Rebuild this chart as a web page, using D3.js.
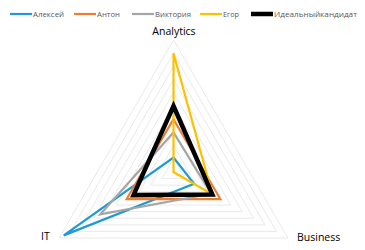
<!DOCTYPE html>
<html>
<head>
<meta charset="utf-8">
<title>Radar</title>
<script src="https://d3js.org/d3.v7.min.js"></script>
<style>
body { margin: 0; background: #fff; }
text { font-family: "Open Sans", "Liberation Sans", sans-serif; }
</style>
</head>
<body>
<script>

var categories = ["Analytics", "Business", "IT"];
var names = ["Алексей", "Антон", "Виктория", "Егор", "Идеальныйкандидат"];
var colors = ["#1f9ad6", "#ed7d31", "#a5a5a5", "#ffc000", "#000000"];

var alexey = [1.1, 1.8, 9.6];
var anton = [4.0, 4.1, 4.1];
var viktoria = [3.0, 3.3, 6.4];
var egor = [9.0, 3.4, 0];
var ideal = [5.0, 3.4, 3.5];

var seriesValues = [alexey, anton, viktoria, egor, ideal];
var gridTicks = [1, 2, 3, 4, 5, 6, 7, 8, 9, 10];

var width = 365, height = 250;
var cx = 173.5, cy = 172;

var svg = d3.select("body")
	.append("svg")
	.attr("width", width)
	.attr("height", height);

var r = d3.scaleLinear().domain([0, 10]).range([0, 132]);
var angle = d3.scalePoint().domain(categories.concat(["_end"])).range([0, 2 * Math.PI]);

function pt(cat, v) {
	var a = angle(cat) - Math.PI / 2;
	return [cx + r(v) * Math.cos(a), cy + r(v) * Math.sin(a)];
}

var line = d3.line().curve(d3.curveLinearClosed);

// grid
svg.append("g").selectAll("path")
	.data(gridTicks)
	.enter()
	.append("path")
	.attr("d", function(t){
		return line(categories.map(function(c){ return pt(c, t); }));
	})
	.attr("fill", "none")
	.attr("stroke", "#e3e3e3")
	.attr("stroke-width", 0.8);

// series
svg.append("g").selectAll("path")
	.data(seriesValues)
	.enter()
	.append("path")
	.attr("d", function(d){
		return line(categories.map(function(c, i){ return pt(c, d[i]); }));
	})
	.attr("fill", "none")
	.attr("stroke", function(d, i){ return colors[i]; })
	.attr("stroke-width", function(d, i){ return i == 4 ? 4.5 : 2.2; })
	.attr("stroke-linejoin", "miter");

// axis labels
var labelPos = {"Analytics": [174, 35, "middle"], "Business": [297, 241, "start"], "IT": [41, 240, "start"]};
svg.append("g").selectAll("text")
	.data(categories)
	.enter()
	.append("text")
	.attr("x", function(d){ return labelPos[d][0]; })
	.attr("y", function(d){ return labelPos[d][1]; })
	.attr("text-anchor", function(d){ return labelPos[d][2]; })
	.attr("font-size", "10.5px")
	.attr("fill", "#000")
	.text(function(d){ return d; });

// legend (start x of each entry)
var legendX = [10, 74, 132, 200, 251];
var legendTextW = [31, 23, 36, 16, 83];
var legend = svg.append("g");
for (var i = 0; i < names.length; i++) {
	var lx = legendX[i];
	legend.append("line")
		.attr("x1", lx).attr("x2", lx + 22)
		.attr("y1", 14).attr("y2", 14)
		.attr("stroke", colors[i])
		.attr("stroke-width", i == 4 ? 4.5 : 2.2);
	legend.append("text")
		.attr("x", lx + 23)
		.attr("y", 17)
		.attr("font-size", "8px")
		.attr("fill", "#595959")
		.attr("textLength", legendTextW[i])
		.attr("lengthAdjust", "spacingAndGlyphs")
		.text(names[i]);
}

</script>
</body>
</html>
